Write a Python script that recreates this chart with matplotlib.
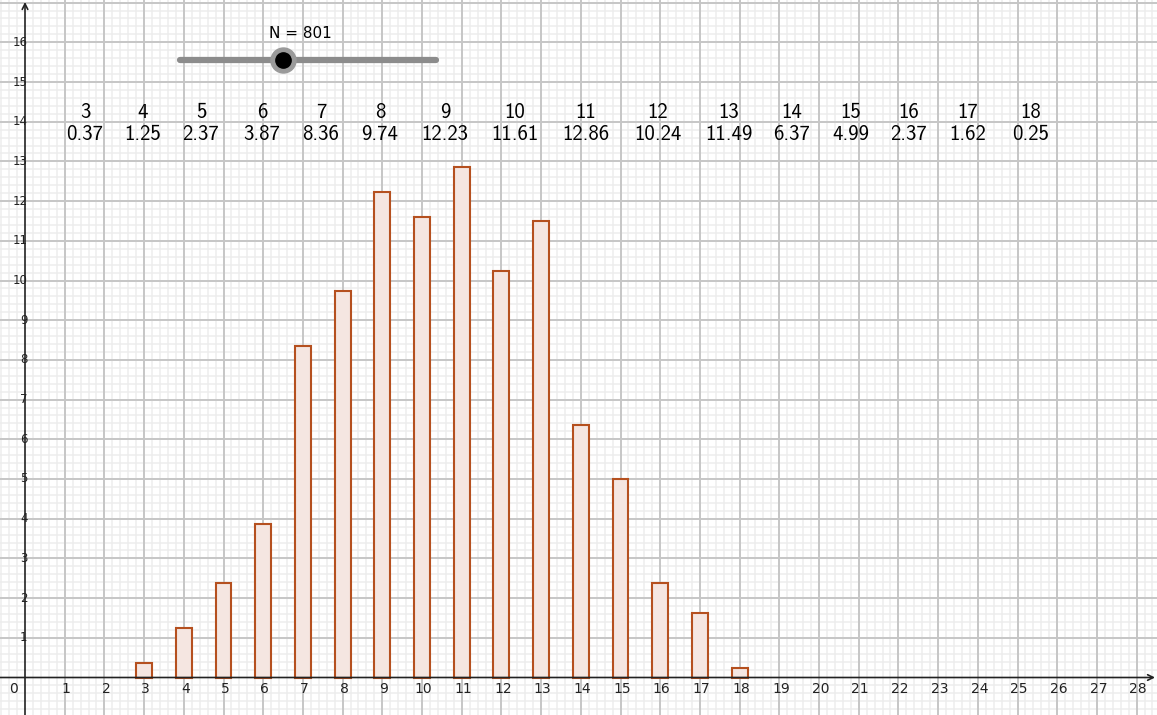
import os
import matplotlib
matplotlib.use("Agg")
import matplotlib.pyplot as plt
from matplotlib.font_manager import FontProperties
import numpy as np

# data
sums = [3, 4, 5, 6, 7, 8, 9, 10, 11, 12, 13, 14, 15, 16, 17, 18]
percent = [0.37, 1.25, 2.37, 3.87, 8.36, 9.74, 12.23, 11.61, 12.86,
           10.24, 11.49, 6.37, 4.99, 2.37, 1.62, 0.25]
n_value = 801

# computer modern sans shipped with matplotlib (like GeoGebra's LaTeX table)
cmss = os.path.join(matplotlib.get_data_path(), 'fonts', 'ttf', 'cmss10.ttf')
table_font = FontProperties(fname=cmss, size=15)

W, H = 1157, 715
fig = plt.figure(figsize=(W / 100, H / 100), dpi=100)
ax = fig.add_axes([0, 0, 1, 1])

# pixel -> data mapping (GeoGebra style view, equal scale)
px_unit = 39.7
x0_px, y0_px = 25, 677.5
ax.set_xlim(-x0_px / px_unit, (W - x0_px) / px_unit)
ax.set_ylim(-(H - y0_px) / px_unit, y0_px / px_unit)

def px_to_x(p):
    return (p - x0_px) / px_unit

def px_to_y(p):
    return (y0_px - p) / px_unit

# grid
xmin, xmax = ax.get_xlim()
ymin, ymax = ax.get_ylim()
for v in np.arange(np.ceil(xmin * 5) / 5, xmax, 0.2):
    if abs(v - round(v)) > 1e-6:
        ax.axvline(v, color='#ededed', lw=1.1, zorder=0)
for v in np.arange(np.ceil(ymin * 5) / 5, ymax, 0.2):
    if abs(v - round(v)) > 1e-6:
        ax.axhline(v, color='#ededed', lw=1.1, zorder=0)
for v in range(int(np.ceil(xmin)), int(xmax) + 1):
    if v != 0:
        ax.axvline(v, color='#c6c6c6', lw=1.4, zorder=0.5)
for v in range(int(np.ceil(ymin)), int(ymax) + 1):
    if v != 0:
        ax.axhline(v, color='#c6c6c6', lw=1.4, zorder=0.5)

# axes with arrows
ax.annotate('', xy=(xmax - 0.05, 0), xytext=(xmin, 0),
            arrowprops=dict(arrowstyle='->', color='#222222', lw=1.2,
                            shrinkA=0, shrinkB=0), zorder=3)
ax.annotate('', xy=(0, ymax - 0.05), xytext=(0, ymin),
            arrowprops=dict(arrowstyle='->', color='#222222', lw=1.2,
                            shrinkA=0, shrinkB=0), zorder=3)

# tick labels
for v in range(1, 29):
    ax.text(v + 0.04, -0.3, str(v), ha='center', va='center',
            fontsize=10, color='#222222', zorder=4)
ax.text(-0.3, -0.3, '0', ha='center', va='center', fontsize=10,
        color='#222222', zorder=4)
for v in range(1, 17):
    ax.text(0.06, v, str(v), ha='right', va='center', fontsize=8.5,
            color='#222222', zorder=4)

# bars
ax.bar(sums, percent, width=0.4, color='#f5e6e1', edgecolor='#b5501f',
       linewidth=1.5, zorder=2)

# table of values
col_px = [85, 143, 201, 262, 321, 380, 445, 515, 586, 658, 729, 792,
          851, 909, 968, 1031]
for cx, s, p in zip(col_px, sums, percent):
    ax.text(px_to_x(cx), px_to_y(113), '%d' % s, fontproperties=table_font,
            ha='center', va='center', color='black', zorder=5)
    ax.text(px_to_x(cx), px_to_y(135), '%.2f' % p, fontproperties=table_font,
            ha='center', va='center', color='black', zorder=5)

# slider N
sx0, sx1, sy = px_to_x(180), px_to_x(436), px_to_y(60)
ax.plot([sx0, sx1], [sy, sy], color='#8c8c8c', lw=4.5,
        solid_capstyle='round', zorder=5)
knob_x = px_to_x(283)
ax.plot(knob_x, sy, 'o', ms=18, color='#9a9a9a', zorder=6)
ax.plot(knob_x, sy, 'o', ms=11, color='black', zorder=7)
ax.text(px_to_x(300), px_to_y(34), 'N = %d' % n_value, ha='center',
        va='center', fontsize=11, color='black', zorder=7)

ax.axis('off')
fig.savefig('out.png', dpi=100)
